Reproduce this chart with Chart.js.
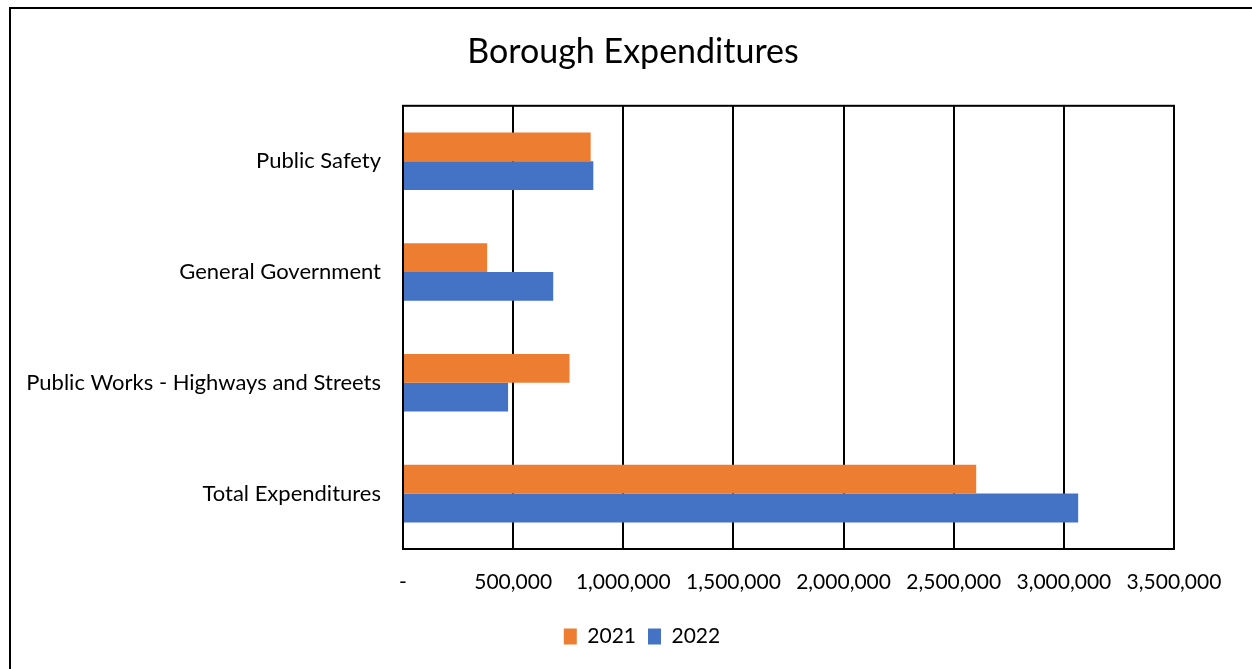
<!DOCTYPE html>
<html>
<head>
<meta charset="utf-8">
<title>Borough Expenditures</title>
<script src="https://cdn.jsdelivr.net/npm/chart.js@4"></script>
<style>
  html, body { margin: 0; padding: 0; background: #fff; overflow: hidden; }
  #wrap { width: 1252px; height: 669px; position: relative; }
</style>
</head>
<body>
<div id="wrap"><canvas id="myChart" width="1252" height="669"></canvas></div>
<script>
const categories = ["Public Safety", "General Government", "Public Works - Highways and Streets", "Total Expenditures"];
const years = ["2021", "2022"];
const spend2021 = [852000, 382000, 756000, 2602000];
const spend2022 = [864000, 682000, 477000, 3065000];
const xTicks = [0, 500000, 1000000, 1500000, 2000000, 2500000, 3000000, 3500000];

const fontName = "Lato, 'Open Sans', sans-serif";

// outer frame of the chart object and the box round the plot
const frames = {
  id: "frames",
  afterLayout(chart) {
    // title and legend are centred on the whole chart object, which runs past the right edge
    if (chart.titleBlock) { chart.titleBlock.left = 10; chart.titleBlock.right = 1256; }
    if (chart.legend) { chart.legend.left = 14; chart.legend.right = 1270; }
  },
  beforeDraw(chart) {
    const ctx = chart.ctx;
    ctx.save();
    ctx.fillStyle = "#fff";
    ctx.fillRect(0, 0, chart.width, chart.height);
    ctx.strokeStyle = "#000";
    ctx.lineWidth = 2;
    ctx.strokeRect(10, 8, chart.width + 20, chart.height + 20);
    ctx.restore();
  },
  afterDraw(chart) {
    const a = chart.chartArea;
    const ctx = chart.ctx;
    ctx.save();
    ctx.strokeStyle = "#000";
    ctx.lineWidth = 2;
    ctx.strokeRect(a.left, a.top, a.right - a.left, a.bottom - a.top);
    ctx.restore();
  }
};

const ctx = document.getElementById("myChart").getContext("2d");
const myChart = new Chart(ctx, {
  type: "bar",
  data: {
    labels: categories,
    datasets: [
      {
        label: years[0],
        data: spend2021,
        backgroundColor: "#ED7D31",
        categoryPercentage: 0.52,
        barPercentage: 1.0
      },
      {
        label: years[1],
        data: spend2022,
        backgroundColor: "#4472C4",
        categoryPercentage: 0.52,
        barPercentage: 1.0
      }
    ]
  },
  options: {
    indexAxis: "y",
    responsive: false,
    animation: false,
    layout: { padding: { left: 0, right: 78, top: 0, bottom: 12 } },
    plugins: {
      title: {
        display: true,
        text: "Borough Expenditures",
        color: "#000",
        font: { family: fontName, size: 34, weight: "normal" },
        padding: { top: 32, bottom: 33 }
      },
      legend: {
        position: "bottom",
        labels: {
          color: "#000",
          font: { family: fontName, size: 21 },
          boxWidth: 13,
          boxHeight: 16,
          padding: 12
        }
      },
      tooltip: { enabled: false }
    },
    scales: {
      x: {
        min: 0,
        max: 3500000,
        afterBuildTicks: (scale) => { scale.ticks = xTicks.map(v => ({ value: v })); },
        afterFit: (scale) => { scale.height = 65; },
        grid: { color: "#000", lineWidth: 2, drawTicks: false },
        border: { color: "#000", width: 2 },
        ticks: {
          color: "#000",
          padding: 21,
          maxRotation: 0,
          font: { family: fontName, size: 21 },
          callback: (v) => v === 0 ? "-" : v.toLocaleString("en-US")
        }
      },
      y: {
        afterFit: (scale) => { scale.width = 403; },
        grid: { display: false, drawTicks: false },
        border: { color: "#000", width: 2 },
        ticks: {
          color: "#000",
          padding: 22,
          font: { family: fontName, size: 22 }
        }
      }
    }
  },
  plugins: [frames]
});
</script>
</body>
</html>
